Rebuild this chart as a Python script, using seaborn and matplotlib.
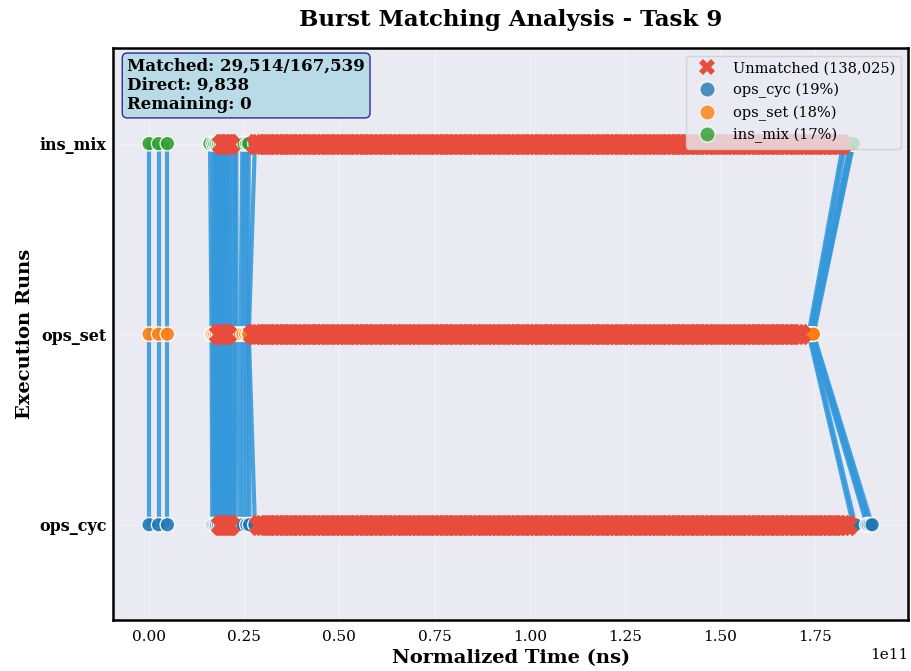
import numpy as np
import pandas as pd
import seaborn as sns
import matplotlib.pyplot as plt
from matplotlib.lines import Line2D

# ---------------- data (times in units of 1e11 ns) ----------------
runs = ["ops_cyc", "ops_set", "ins_mix"]
run_colors = ["#1f77b4", "#ff7f0e", "#2ca02c"]
run_share = ["19%", "18%", "17%"]

matched_total = 29514
total_bursts = 167539
direct_matches = 9838
remaining = 0
unmatched_total = 138025

# matched bursts: time of the burst in each run (same index = one match)
match_cyc = [0.000, 0.025, 0.048, 0.166, 0.170, 0.174, 0.178, 0.183, 0.188, 0.193,
             0.198, 0.203, 0.208, 0.213, 0.218, 0.222, 0.227, 0.238, 0.247, 0.257,
             0.264, 0.278, 1.850, 1.856, 1.886, 1.890, 1.895, 1.900]
match_set = [0.000, 0.025, 0.048, 0.164, 0.168, 0.173, 0.178, 0.183, 0.188, 0.193,
             0.198, 0.203, 0.208, 0.213, 0.218, 0.225, 0.230, 0.240, 0.247, 0.254,
             0.260, 0.262, 1.733, 1.736, 1.738, 1.741, 1.744, 1.746]
match_mix = [0.000, 0.025, 0.048, 0.160, 0.168, 0.173, 0.178, 0.183, 0.188, 0.193,
             0.198, 0.203, 0.208, 0.213, 0.220, 0.225, 0.229, 0.245, 0.250, 0.257,
             0.262, 0.278, 1.824, 1.830, 1.843, 1.846, 1.849, 1.851]

# unmatched bursts per run
unm_cyc = [0.190, 0.195, 0.200, 0.205, 0.209,
           0.288, 0.30, 0.31, 0.32, 0.33, 0.34, 0.35, 0.36, 0.37, 0.38, 0.39,
           0.40, 0.41, 0.42, 0.43, 0.44, 0.45, 0.46, 0.47, 0.48, 0.49,
           0.50, 0.51, 0.52, 0.53, 0.54, 0.55, 0.56, 0.57, 0.58, 0.59,
           0.60, 0.61, 0.62, 0.63, 0.64, 0.65, 0.66, 0.67, 0.68, 0.69,
           0.70, 0.71, 0.72, 0.73, 0.74, 0.75, 0.76, 0.77, 0.78, 0.79,
           0.80, 0.81, 0.82, 0.83, 0.84, 0.85, 0.86, 0.87, 0.88, 0.89,
           0.90, 0.91, 0.92, 0.93, 0.94, 0.95, 0.96, 0.97, 0.98, 0.99,
           1.00, 1.01, 1.02, 1.03, 1.04, 1.05, 1.06, 1.07, 1.08, 1.09,
           1.10, 1.11, 1.12, 1.13, 1.14, 1.15, 1.16, 1.17, 1.18, 1.19,
           1.20, 1.21, 1.22, 1.23, 1.24, 1.25, 1.26, 1.27, 1.28, 1.29,
           1.30, 1.31, 1.32, 1.33, 1.34, 1.35, 1.36, 1.37, 1.38, 1.39,
           1.40, 1.41, 1.42, 1.43, 1.44, 1.45, 1.46, 1.47, 1.48, 1.49,
           1.50, 1.51, 1.52, 1.53, 1.54, 1.55, 1.56, 1.57, 1.58, 1.59,
           1.60, 1.61, 1.62, 1.63, 1.64, 1.65, 1.66, 1.67, 1.68, 1.69,
           1.70, 1.71, 1.72, 1.73, 1.74, 1.75, 1.76, 1.77, 1.78, 1.79,
           1.80, 1.81, 1.82, 1.833]
unm_set = [0.184, 0.189, 0.194, 0.198, 0.202,
           0.272, 0.28, 0.29,
           0.30, 0.31, 0.32, 0.33, 0.34, 0.35, 0.36, 0.37, 0.38, 0.39,
           0.40, 0.41, 0.42, 0.43, 0.44, 0.45, 0.46, 0.47, 0.48, 0.49,
           0.50, 0.51, 0.52, 0.53, 0.54, 0.55, 0.56, 0.57, 0.58, 0.59,
           0.60, 0.61, 0.62, 0.63, 0.64, 0.65, 0.66, 0.67, 0.68, 0.69,
           0.70, 0.71, 0.72, 0.73, 0.74, 0.75, 0.76, 0.77, 0.78, 0.79,
           0.80, 0.81, 0.82, 0.83, 0.84, 0.85, 0.86, 0.87, 0.88, 0.89,
           0.90, 0.91, 0.92, 0.93, 0.94, 0.95, 0.96, 0.97, 0.98, 0.99,
           1.00, 1.01, 1.02, 1.03, 1.04, 1.05, 1.06, 1.07, 1.08, 1.09,
           1.10, 1.11, 1.12, 1.13, 1.14, 1.15, 1.16, 1.17, 1.18, 1.19,
           1.20, 1.21, 1.22, 1.23, 1.24, 1.25, 1.26, 1.27, 1.28, 1.29,
           1.30, 1.31, 1.32, 1.33, 1.34, 1.35, 1.36, 1.37, 1.38, 1.39,
           1.40, 1.41, 1.42, 1.43, 1.44, 1.45, 1.46, 1.47, 1.48, 1.49,
           1.50, 1.51, 1.52, 1.53, 1.54, 1.55, 1.56, 1.57, 1.58, 1.59,
           1.60, 1.61, 1.62, 1.63, 1.64, 1.65, 1.66, 1.67, 1.68, 1.69,
           1.70, 1.711]
unm_mix = [0.192, 0.197, 0.202, 0.207, 0.211,
           0.280, 0.29,
           0.30, 0.31, 0.32, 0.33, 0.34, 0.35, 0.36, 0.37, 0.38, 0.39,
           0.40, 0.41, 0.42, 0.43, 0.44, 0.45, 0.46, 0.47, 0.48, 0.49,
           0.50, 0.51, 0.52, 0.53, 0.54, 0.55, 0.56, 0.57, 0.58, 0.59,
           0.60, 0.61, 0.62, 0.63, 0.64, 0.65, 0.66, 0.67, 0.68, 0.69,
           0.70, 0.71, 0.72, 0.73, 0.74, 0.75, 0.76, 0.77, 0.78, 0.79,
           0.80, 0.81, 0.82, 0.83, 0.84, 0.85, 0.86, 0.87, 0.88, 0.89,
           0.90, 0.91, 0.92, 0.93, 0.94, 0.95, 0.96, 0.97, 0.98, 0.99,
           1.00, 1.01, 1.02, 1.03, 1.04, 1.05, 1.06, 1.07, 1.08, 1.09,
           1.10, 1.11, 1.12, 1.13, 1.14, 1.15, 1.16, 1.17, 1.18, 1.19,
           1.20, 1.21, 1.22, 1.23, 1.24, 1.25, 1.26, 1.27, 1.28, 1.29,
           1.30, 1.31, 1.32, 1.33, 1.34, 1.35, 1.36, 1.37, 1.38, 1.39,
           1.40, 1.41, 1.42, 1.43, 1.44, 1.45, 1.46, 1.47, 1.48, 1.49,
           1.50, 1.51, 1.52, 1.53, 1.54, 1.55, 1.56, 1.57, 1.58, 1.59,
           1.60, 1.61, 1.62, 1.63, 1.64, 1.65, 1.66, 1.67, 1.68, 1.69,
           1.70, 1.71, 1.72, 1.73, 1.74, 1.75, 1.76, 1.77, 1.78, 1.79,
           1.80, 1.81, 1.817]

SCALE = 1e11

# ---------------- tables ----------------
match_lists = [match_cyc, match_set, match_mix]
line_rows = []
for m in range(len(match_cyc)):
    for r, lst in enumerate(match_lists):
        line_rows.append({"match": m, "t": lst[m] * SCALE, "y": r})
lines_df = pd.DataFrame(line_rows)

pts_rows = []
for r, lst in enumerate(match_lists):
    for t in lst:
        pts_rows.append({"run": runs[r], "t": t * SCALE, "y": r})
pts_df = pd.DataFrame(pts_rows)

unm_rows = []
for r, lst in enumerate([unm_cyc, unm_set, unm_mix]):
    for t in lst:
        unm_rows.append({"run": runs[r], "t": t * SCALE, "y": r})
unm_df = pd.DataFrame(unm_rows)

# ---------------- plot ----------------
sns.set_style("darkgrid")
plt.rcParams["font.family"] = ["DejaVu Serif"]
plt.rcParams["text.color"] = "black"
plt.rcParams["axes.labelcolor"] = "black"
plt.rcParams["xtick.color"] = "black"
plt.rcParams["ytick.color"] = "black"

fig, ax = plt.subplots(figsize=(9.11, 6.71), dpi=100)
fig.subplots_adjust(left=0.124, right=0.997, bottom=0.076, top=0.928)

sns.lineplot(data=lines_df, x="t", y="y", units="match", estimator=None, sort=False,
             color="#3498db", lw=3, alpha=0.88, legend=False, ax=ax, zorder=1)

palette = dict(zip(runs, run_colors))
sns.scatterplot(data=pts_df, x="t", y="y", hue="run", palette=palette, s=110,
                edgecolor="white", linewidth=1, alpha=0.9, legend=False, ax=ax, zorder=3)

sns.scatterplot(data=unm_df, x="t", y="y", marker="X", color="#e74c3c", s=200,
                edgecolor="#e74c3c", linewidth=1.0, legend=False, ax=ax, zorder=4)

ax.set_xlim(-0.095 * SCALE, 1.995 * SCALE)
ax.set_ylim(-0.5, 2.5)
ax.set_yticks([0, 1, 2])
ax.set_yticklabels(runs, fontsize=11.5, fontweight="bold")
ax.tick_params(axis="y", pad=1)
ax.tick_params(axis="x", labelsize=11)
ax.xaxis.get_offset_text().set_fontsize(11)
ax.grid(True, alpha=0.35)

for s in ax.spines.values():
    s.set_visible(True)
    s.set_color("black")
    s.set_linewidth(1.8)

ax.set_title("Burst Matching Analysis - Task 9", fontsize=16.5, fontweight="bold", pad=16)
ax.set_xlabel("Normalized Time (ns)", fontsize=14, fontweight="bold")
ax.set_ylabel("Execution Runs", fontsize=14, fontweight="bold")

info = (f"Matched: {matched_total:,}/{total_bursts:,}\n"
        f"Direct: {direct_matches:,}\n"
        f"Remaining: {remaining}")
ax.text(0.018, 0.983, info, transform=ax.transAxes, va="top", ha="left",
        fontsize=12, fontweight="bold", zorder=6, linespacing=1.15,
        bbox=dict(boxstyle="round,pad=0.3", facecolor="lightblue", alpha=0.8,
                  edgecolor="navy"))

handles = [Line2D([], [], marker="X", color="#e74c3c", linestyle="none", markersize=11,
                  markeredgewidth=0)]
labels = [f"Unmatched ({unmatched_total:,})"]
for r in range(3):
    handles.append(Line2D([], [], marker="o", color=run_colors[r], alpha=0.8,
                          linestyle="none", markersize=11, markeredgecolor="white"))
    labels.append(f"{runs[r]} ({run_share[r]})")
ax.legend(handles, labels, loc="upper right", fontsize=10.5, frameon=True)

fig.savefig("out.png", dpi=100)
